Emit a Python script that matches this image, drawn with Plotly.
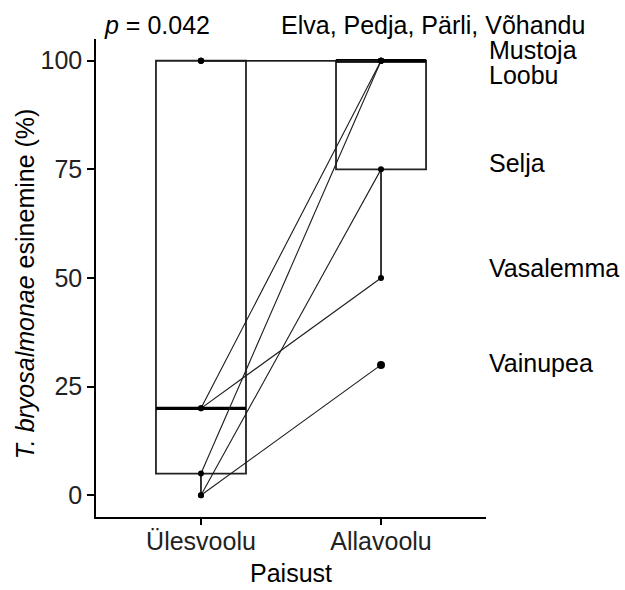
import numpy as np
import plotly.graph_objects as go

# ---- data ----
groups = ["Ülesvoolu", "Allavoolu"]
rivers = ["Elva", "Pedja", "Pärli", "Võhandu", "Mustoja", "Loobu", "Selja", "Vasalemma", "Vainupea"]
upstream = [100, 100, 100, 100, 20, 5, 0, 20, 0]
downstream = [100, 100, 100, 100, 100, 100, 75, 50, 30]
y_ticks = [0, 25, 50, 75, 100]
p_text = "<i>p</i> = 0.042"
x_title = "Paisust"
y_title = "<i>T. bryosalmonae</i> esinemine (%)"
right_labels = ["Elva, Pedja, Pärli, Võhandu", "Mustoja", "Loobu", "Selja", "Vasalemma", "Vainupea"]
right_label_y = [108.2, 102.5, 96.7, 76.5, 52.3, 30.4]

FONT = "Liberation Sans, Arial, sans-serif"
LINE = "#1a1a1a"
BOX = "#222222"
xpos = [1, 2]
series = [upstream, downstream]
YR = [-5, 105]
XR = [0.417, 2.583]


def px_(xv):
    return (xv - XR[0]) / (XR[1] - XR[0])


def py_(yv):
    return (yv - YR[0]) / (YR[1] - YR[0])


fig = go.Figure()

# boxes
for xp, vals in zip(xpos, series):
    fig.add_trace(go.Box(
        x=[xp] * len(vals), y=vals, width=0.5, quartilemethod="inclusive",
        boxpoints="outliers", pointpos=0, jitter=0, whiskerwidth=0,
        fillcolor="white", line=dict(color=BOX, width=1.8),
        marker=dict(color="black", size=8), showlegend=False, hoverinfo="skip"))

# thicker median (ggplot fatten)
for xp, vals in zip(xpos, series):
    m = float(np.median(vals))
    fig.add_trace(go.Scatter(x=[xp - 0.25, xp + 0.25], y=[m, m], mode="lines",
                             line=dict(color="black", width=3.4), showlegend=False, hoverinfo="skip"))

# paired lines
for r, u, d in zip(rivers, upstream, downstream):
    fig.add_trace(go.Scatter(x=xpos, y=[u, d], mode="lines",
                             line=dict(color=LINE, width=1.1), showlegend=False, name=r))

# points
for xp, vals in zip(xpos, series):
    fig.add_trace(go.Scatter(x=[xp] * len(vals), y=vals, mode="markers",
                             marker=dict(color="black", size=6), showlegend=False))

afont = dict(size=25, color="black", family=FONT)
ann = [dict(x=0.015, xref="paper", xanchor="left", y=py_(108.2), yref="paper", yanchor="middle",
            text=p_text, showarrow=False, font=afont)]
for i, (t, yv) in enumerate(zip(right_labels, right_label_y)):
    if i == 0:
        ann.append(dict(x=px_(3.144), xref="paper", xanchor="right", y=py_(yv), yref="paper",
                        yanchor="middle", text=t, showarrow=False, font=afont))
    else:
        ann.append(dict(x=px_(2.59), xref="paper", xanchor="left", y=py_(yv), yref="paper",
                        yanchor="middle", text=t, showarrow=False, font=afont))
# axis titles
ann.append(dict(x=0.5, xref="paper", xanchor="center", y=-0.117, yref="paper", yanchor="middle",
                text=x_title, showarrow=False, font=afont))
ann.append(dict(x=-0.182, xref="paper", xanchor="center", y=0.487, yref="paper", yanchor="middle",
                text=y_title, textangle=-90, showarrow=False, font=afont))

fig.update_layout(
    width=625, height=590,
    margin=dict(l=96, r=139, t=39, b=73),
    plot_bgcolor="white", paper_bgcolor="white",
    font=dict(family=FONT, size=25, color="black"),
    annotations=ann,
    xaxis=dict(range=XR, tickvals=xpos, ticktext=groups, automargin=False,
               showline=True, linecolor="black", linewidth=1.5,
               ticks="outside", ticklen=6, tickwidth=1.5, tickcolor="black",
               ticklabelstandoff=-5,
               showgrid=False, zeroline=False,
               tickfont=dict(size=25, color="#222222")),
    yaxis=dict(range=YR, tickvals=y_ticks, automargin=False,
               showline=True, linecolor="black", linewidth=1.5,
               ticks="outside", ticklen=7, tickwidth=1.5, tickcolor="black",
               showgrid=False, zeroline=False,
               tickfont=dict(size=25, color="#222222")),
)

fig.write_html("out.html", config={"displayModeBar": False},
               post_script="document.body.style.margin='0px';document.body.style.overflow='hidden';")
